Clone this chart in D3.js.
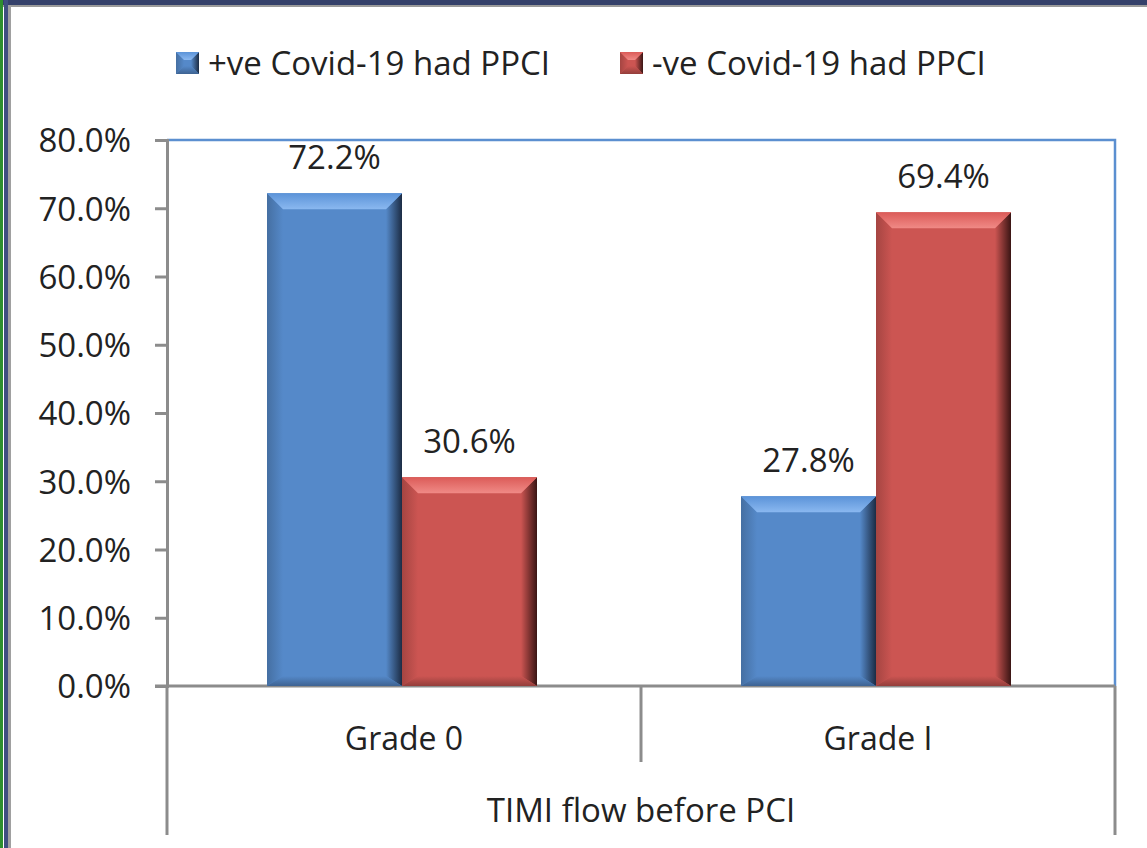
<!DOCTYPE html>
<html>
<head>
<meta charset="utf-8">
<script src="https://cdn.jsdelivr.net/npm/d3@7"></script>
<style>
	body { margin: 0; background: #fff; }
	svg text { font-family: "Open Sans", "Lato", sans-serif; fill: #222; }
</style>
</head>
<body>
<div id="chart"></div>
<script>
'use strict';

var categories = ['Grade 0', 'Grade I'];
var seriesNames = ['+ve Covid-19 had PPCI', '-ve Covid-19 had PPCI'];
var positiveValues = [72.2, 27.8];
var negativeValues = [30.6, 69.4];
var yTicks = [0, 10, 20, 30, 40, 50, 60, 70, 80];
var axisTitle = 'TIMI flow before PCI';

var W = 1147, H = 848;
var colors = ['#5589c9', '#cc5552'];
var darks = ['#1c2c44', '#3a1514'];
var lights = ['#8ab8f0', '#f08a86'];

var svg = d3.select('#chart').append('svg')
	.attr('width', W)
	.attr('height', H);

var defs = svg.append('defs');
colors.forEach(function(c, i) {
	var g = defs.append('linearGradient').attr('id', 'rside' + i)
		.attr('x1', 0).attr('x2', 1).attr('y1', 0).attr('y2', 0);
	g.append('stop').attr('offset', '0%').attr('stop-color', c);
	g.append('stop').attr('offset', '100%').attr('stop-color', darks[i]);
	var l = defs.append('linearGradient').attr('id', 'lside' + i)
		.attr('x1', 0).attr('x2', 1).attr('y1', 0).attr('y2', 0);
	l.append('stop').attr('offset', '0%').attr('stop-color', d3.color(c).darker(0.6));
	l.append('stop').attr('offset', '100%').attr('stop-color', c);
	var t = defs.append('linearGradient').attr('id', 'top' + i)
		.attr('x1', 0).attr('x2', 0).attr('y1', 0).attr('y2', 1);
	t.append('stop').attr('offset', '0%').attr('stop-color', d3.color(c).brighter(0.2));
	t.append('stop').attr('offset', '100%').attr('stop-color', lights[i]);
	var b = defs.append('linearGradient').attr('id', 'bot' + i)
		.attr('x1', 0).attr('x2', 0).attr('y1', 0).attr('y2', 1);
	b.append('stop').attr('offset', '0%').attr('stop-color', c);
	b.append('stop').attr('offset', '100%').attr('stop-color', d3.color(c).darker(0.9));
});

// outer frame
svg.append('rect').attr('x', 0).attr('y', 0).attr('width', W).attr('height', 5).attr('fill', '#34406a');
svg.append('rect').attr('x', 0).attr('y', 5).attr('width', W).attr('height', 2).attr('fill', '#9a9a9a');
svg.append('rect').attr('x', 0).attr('y', 0).attr('width', 3).attr('height', H).attr('fill', '#2e8f2e');
svg.append('rect').attr('x', 4).attr('y', 0).attr('width', 4).attr('height', H).attr('fill', '#3f4f80');
svg.append('rect').attr('x', 8).attr('y', 5).attr('width', 3).attr('height', H).attr('fill', '#a0a0a0');

var plotLeft = 167, plotRight = 1115, plotTop = 140, plotBottom = 686;

var y = d3.scaleLinear().domain([0, 80]).range([plotBottom, plotTop]);
var x0 = d3.scaleBand().domain(categories).range([plotLeft, plotRight]).padding(0);
var x1 = d3.scaleBand().domain([0, 1]).range([100, 370]).padding(0);

// plot border (blue, top and right)
svg.append('path')
	.attr('d', 'M' + plotLeft + ',' + plotTop + 'H' + plotRight + 'V' + plotBottom)
	.attr('fill', 'none')
	.attr('stroke', '#5b8fd0')
	.attr('stroke-width', 2.5);

// y axis
var yAxis = d3.axisLeft(y)
	.tickValues(yTicks)
	.tickSize(12)
	.tickPadding(24)
	.tickFormat(function(d) { return d.toFixed(1) + '%'; });

var gy = svg.append('g')
	.attr('transform', 'translate(' + plotLeft + ',0)')
	.call(yAxis);
gy.select('.domain').attr('stroke', '#8c8c8c').attr('stroke-width', 3);
gy.selectAll('.tick line').attr('stroke', '#8c8c8c').attr('stroke-width', 3);
gy.selectAll('.tick text')
	.style('font-size', '33px')
	.attr('fill', '#222')
	.attr('dy', '0.36em');

// category axis lines
var axisColor = '#8c8c8c';
svg.append('line').attr('x1', plotLeft - 12).attr('x2', plotRight)
	.attr('y1', plotBottom).attr('y2', plotBottom)
	.attr('stroke', axisColor).attr('stroke-width', 3);
[plotLeft, plotRight].forEach(function(xx) {
	svg.append('line').attr('x1', xx).attr('x2', xx)
		.attr('y1', plotBottom).attr('y2', 835)
		.attr('stroke', axisColor).attr('stroke-width', 3);
});
svg.append('line')
	.attr('x1', x0(categories[1])).attr('x2', x0(categories[1]))
	.attr('y1', plotBottom).attr('y2', 762)
	.attr('stroke', axisColor).attr('stroke-width', 3);

svg.selectAll('text.cat')
	.data(categories)
	.enter().append('text')
	.attr('class', 'cat')
	.attr('x', function(d) { return x0(d) + x0.bandwidth() / 2; })
	.attr('y', 750)
	.attr('text-anchor', 'middle')
	.style('font-size', '32px')
	.text(function(d) { return d; });

svg.append('text')
	.attr('x', (plotLeft + plotRight) / 2)
	.attr('y', 822)
	.attr('text-anchor', 'middle')
	.style('font-size', '33px')
	.text(axisTitle);

// bevelled bar
function bevel(g, bx, by, bw, bh, i, b, bb) {
	var bt = Math.min(b, bh / 2);
	g.append('rect').attr('x', bx).attr('y', by).attr('width', bw).attr('height', bh)
		.attr('fill', colors[i]);
	g.append('path')
		.attr('d', 'M' + bx + ',' + by + 'L' + (bx + b) + ',' + (by + bt) +
			'L' + (bx + b) + ',' + (by + bh - bb) + 'L' + bx + ',' + (by + bh) + 'Z')
		.attr('fill', 'url(#lside' + i + ')');
	g.append('path')
		.attr('d', 'M' + (bx + bw) + ',' + by + 'L' + (bx + bw - b) + ',' + (by + bt) +
			'L' + (bx + bw - b) + ',' + (by + bh - bb) + 'L' + (bx + bw) + ',' + (by + bh) + 'Z')
		.attr('fill', 'url(#rside' + i + ')');
	g.append('path')
		.attr('d', 'M' + bx + ',' + by + 'L' + (bx + bw) + ',' + by +
			'L' + (bx + bw - b) + ',' + (by + bt) + 'L' + (bx + b) + ',' + (by + bt) + 'Z')
		.attr('fill', 'url(#top' + i + ')');
	g.append('path')
		.attr('d', 'M' + bx + ',' + (by + bh) + 'L' + (bx + bw) + ',' + (by + bh) +
			'L' + (bx + bw - b) + ',' + (by + bh - bb) + 'L' + (bx + b) + ',' + (by + bh - bb) + 'Z')
		.attr('fill', 'url(#bot' + i + ')');
}

var series = [positiveValues, negativeValues];
series.forEach(function(vals, i) {
	categories.forEach(function(cat, j) {
		var bx = x0(cat) + x1(i);
		var by = y(vals[j]);
		var g = svg.append('g').attr('class', 'bar');
		bevel(g, bx, by, x1.bandwidth(), plotBottom - by, i, 16, 10);
		svg.append('text')
			.attr('x', bx + x1.bandwidth() / 2)
			.attr('y', by - 24)
			.attr('text-anchor', 'middle')
			.style('font-size', '33px')
			.text(vals[j].toFixed(1) + '%');
	});
});

// legend
var legendX = [176, 620];
seriesNames.forEach(function(name, i) {
	var lg = svg.append('g').attr('class', 'legend');
	bevel(lg, legendX[i], 52, 23, 22, i, 8, 8);
	lg.append('text')
		.attr('x', legendX[i] + 32)
		.attr('y', 75)
		.style('font-size', '33px')
		.text(name);
});
</script>
</body>
</html>
